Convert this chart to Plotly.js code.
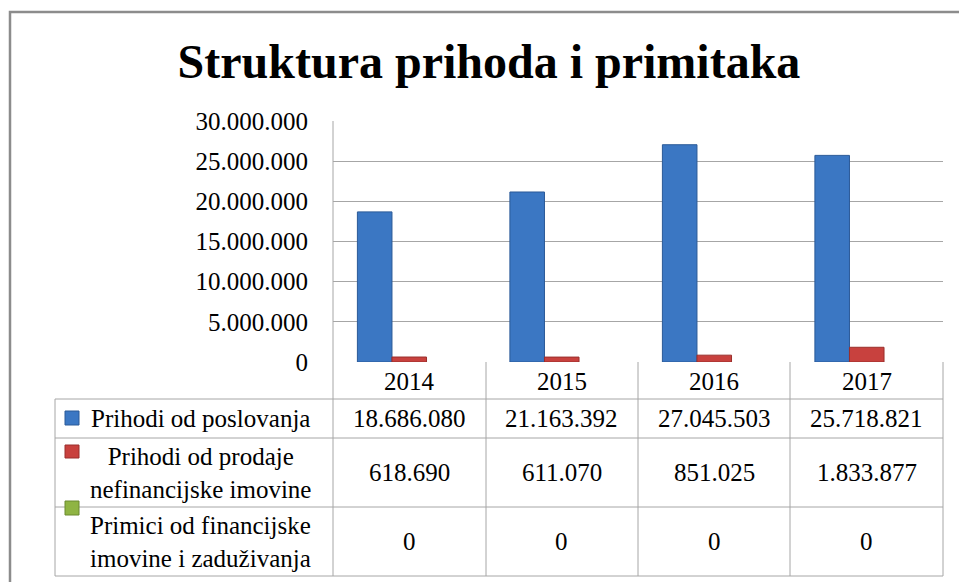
<!DOCTYPE html>
<html>
<head>
<meta charset="utf-8">
<script src="https://cdn.plot.ly/plotly-3.0.1.min.js"></script>
<style>html,body{margin:0;padding:0;background:#fff;}</style>
</head>
<body>
<div id="chart" style="width:959px;height:582px;"></div>
<script>
// ---- data ----
var years = ['2014', '2015', '2016', '2017'];
var seriesNames = [
  'Prihodi od poslovanja',
  'Prihodi od prodaje<br>nefinancijske imovine',
  'Primici od financijske<br>imovine i zaduživanja'
];
var prihodiPoslovanja = [18686080, 21163392, 27045503, 25718821];
var prihodiProdaje = [618690, 611070, 851025, 1833877];
var primiciFinancijske = [0, 0, 0, 0];
var yTickVals = [0, 5000000, 10000000, 15000000, 20000000, 25000000, 30000000];
var chartTitle = 'Struktura prihoda i primitaka';

// ---- styling / layout helpers ----
var FONT = '"Times New Roman", "Liberation Serif", serif';
var colors = ['#3b77c3', '#c8413e', '#8fb443'];
var lineColors = ['#2b5a98', '#9a2f2c', '#6b8a2e'];
var W = 959, H = 582;
var M = {l: 333, r: 16, t: 121, b: 220};
var PW = W - M.l - M.r, PH = H - M.t - M.b;
function xp(px) { return (px - M.l) / PW; }
function yp(py) { return (H - M.b - py) / PH; }
function fmt(v) { return String(v).replace(/\B(?=(\d{3})+(?!\d))/g, '.'); }

var allSeries = [prihodiPoslovanja, prihodiProdaje, primiciFinancijske];

var traces = allSeries.map(function (vals, i) {
  return {
    type: 'bar', x: years, y: vals, name: seriesNames[i],
    marker: {color: colors[i], line: {color: lineColors[i], width: i === 2 ? 0 : 1}},
    hoverinfo: 'skip'
  };
});

// table geometry (pixels)
var colEdges = [333, 486, 638, 790, 943];
var tableLeft = 55;
var rowEdges = [362, 399, 438, 507, 576];
var gridCol = '#a6a6a6';

var shapes = [];
function line(x0, y0, x1, y1, col, w) {
  shapes.push({type: 'line', xref: 'paper', yref: 'paper',
    x0: xp(x0), y0: yp(y0), x1: xp(x1), y1: yp(y1),
    line: {color: col || gridCol, width: w || 1}});
}
// left border of plot extended through table
line(333, 121, 333, 576);
// vertical column lines in table
for (var c = 1; c < colEdges.length; c++) line(colEdges[c], 362, colEdges[c], 576);
line(tableLeft, 399, tableLeft, 576);
// horizontal table lines
for (var r = 1; r < rowEdges.length; r++) line(tableLeft, rowEdges[r], 943, rowEdges[r]);
// outer chart frame
shapes.push({type: 'rect', xref: 'paper', yref: 'paper',
  x0: xp(10), y0: yp(12), x1: xp(975), y1: yp(600),
  line: {color: '#8c8c8c', width: 2.5}, fillcolor: 'rgba(0,0,0,0)', layer: 'below'});
// legend keys
var keyY = [[411, 425], [445, 458], [501, 515]];
keyY.forEach(function (k, i) {
  shapes.push({type: 'rect', xref: 'paper', yref: 'paper',
    x0: xp(65), x1: xp(79), y0: yp(k[0]), y1: yp(k[1]),
    fillcolor: colors[i], line: {color: lineColors[i], width: 1}});
});

var annotations = [];
var txtFont = {family: FONT, size: 25, color: '#000'};
// year header (x given as category index)
years.forEach(function (yr, j) {
  annotations.push({xref: 'x', yref: 'paper', x: j, y: yp(381), text: yr,
    showarrow: false, font: txtFont, xanchor: 'center', yanchor: 'middle'});
});
var rowCenters = [418.5, 472.5, 541.5];
allSeries.forEach(function (vals, i) {
  annotations.push({xref: 'paper', yref: 'paper', x: xp(200), y: yp(rowCenters[i]),
    text: seriesNames[i], showarrow: false, font: txtFont, align: 'center',
    xanchor: 'center', yanchor: 'middle'});
  vals.forEach(function (v, j) {
    annotations.push({xref: 'x', yref: 'paper', x: j, y: yp(rowCenters[i]),
      text: fmt(v), showarrow: false, font: txtFont, xanchor: 'center', yanchor: 'middle'});
  });
});

var layout = {
  width: W, height: H,
  margin: M,
  paper_bgcolor: '#fff', plot_bgcolor: '#fff',
  showlegend: false,
  barmode: 'group', bargap: 0.32, bargroupgap: 0,
  separators: ',.',
  title: {text: '<b>' + chartTitle + '</b>', font: {family: FONT, size: 48, color: '#000'},
    x: 489 / W, xanchor: 'center', xref: 'container', y: 1 - 61 / H, yanchor: 'middle', yref: 'container'},
  xaxis: {type: 'category', range: [-0.5, 3.5], showticklabels: false, showgrid: false,
    zeroline: false, showline: false, ticks: '', fixedrange: true},
  yaxis: {range: [0, 30000000], tickvals: yTickVals, ticktext: yTickVals.map(fmt),
    showgrid: true, gridcolor: gridCol, gridwidth: 1, zeroline: false, showline: false,
    ticks: '', ticklabelstandoff: 24, tickfont: {family: FONT, size: 25, color: '#000'}, fixedrange: true},
  shapes: shapes,
  annotations: annotations
};

Plotly.newPlot('chart', traces, layout, {displayModeBar: false, staticPlot: true});
</script>
</body>
</html>
